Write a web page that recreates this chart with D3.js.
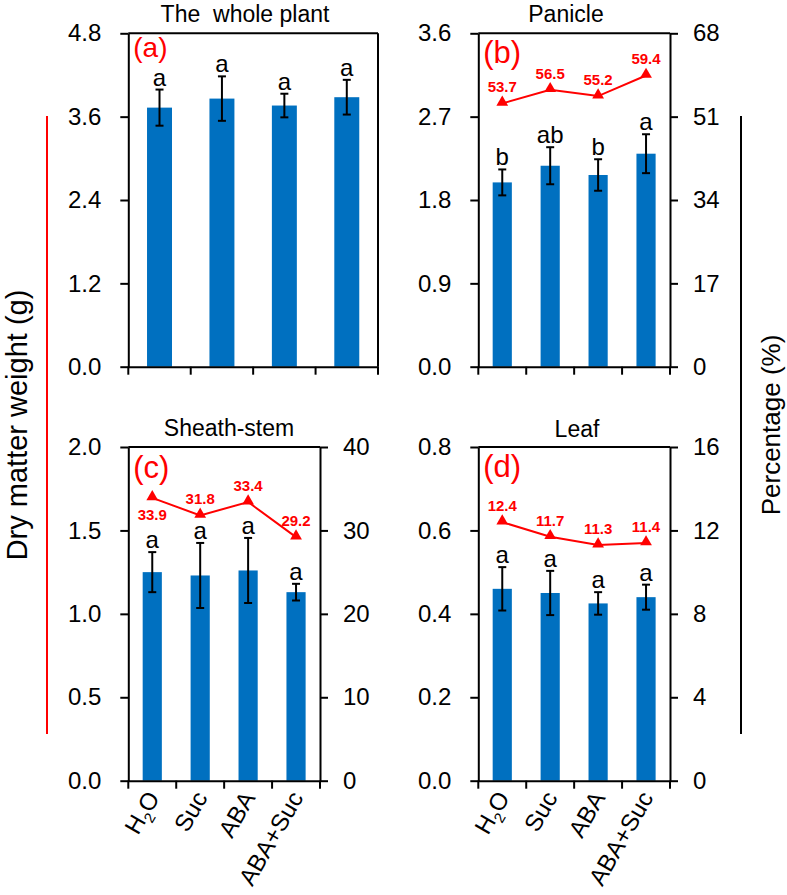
<!DOCTYPE html>
<html><head><meta charset="utf-8">
<script src="https://cdn.jsdelivr.net/npm/d3@7"></script>
<style>
body{margin:0;background:#fff}
svg{display:block}
text{font-family:"Liberation Sans",Arial,sans-serif}
</style>
</head><body>
<svg id="chart" width="787" height="895"></svg>
<script>
// ---------------- data ----------------
const categories = ["H2O", "Suc", "ABA", "ABA+Suc"];

const wholeMean = [3.73, 3.86, 3.76, 3.88];
const wholeErr = [0.26, 0.32, 0.17, 0.25];
const wholeLetters = ["a", "a", "a", "a"];
const wholeTicks = [0, 1.2, 2.4, 3.6, 4.8];

const panicleMean = [1.99, 2.17, 2.07, 2.30];
const panicleErr = [0.14, 0.20, 0.17, 0.21];
const panicleLetters = ["b", "ab", "b", "a"];
const paniclePct = [53.7, 56.5, 55.2, 59.4];
const panicleTicks = [0, 0.9, 1.8, 2.7, 3.6];
const paniclePctTicks = [0, 17, 34, 51, 68];

const sheathMean = [1.25, 1.23, 1.26, 1.13];
const sheathErr = [0.12, 0.195, 0.195, 0.05];
const sheathLetters = ["a", "a", "a", "a"];
const sheathPct = [33.9, 31.8, 33.4, 29.2];
const sheathTicks = [0, 0.5, 1.0, 1.5, 2.0];
const sheathPctTicks = [0, 10, 20, 30, 40];

const leafMean = [0.46, 0.45, 0.425, 0.44];
const leafErr = [0.052, 0.053, 0.027, 0.03];
const leafLetters = ["a", "a", "a", "a"];
const leafPct = [12.4, 11.7, 11.3, 11.4];
const leafTicks = [0, 0.2, 0.4, 0.6, 0.8];
const leafPctTicks = [0, 4, 8, 12, 16];

// ---------------- drawing ----------------
const BLUE = "#0070c0", RED = "#ff0000";
const FS = 24;
const svg = d3.select("#chart");

function styleAxis(sel) {
  sel.selectAll("path.domain").attr("stroke", "#000").attr("stroke-width", 2);
  sel.selectAll(".tick line").attr("stroke", "#000").attr("stroke-width", 2);
  sel.selectAll(".tick text").attr("font-size", FS).attr("fill", "#000")
     .attr("font-family", '"Liberation Sans",Arial,sans-serif');
  sel.attr("font-family", null).attr("font-size", null);
}

function drawPanel(cfg) {
  const g = svg.append("g");
  const x = d3.scaleBand().domain(categories).range([cfg.x0, cfg.x1]);
  const bw = x.bandwidth();
  const y = d3.scaleLinear().domain([0, cfg.ticks[cfg.ticks.length - 1]]).range([cfg.y1, cfg.y0]);

  // bars
  g.selectAll("rect.bar").data(cfg.mean).join("rect")
    .attr("x", (d, i) => x(categories[i]) + bw * 0.3)
    .attr("width", bw * 0.4)
    .attr("y", d => y(d))
    .attr("height", d => y(0) - y(d))
    .attr("fill", BLUE);

  // error bars
  const eb = g.selectAll("g.err").data(cfg.mean).join("g");
  eb.append("line")
    .attr("x1", (d, i) => x(categories[i]) + bw / 2).attr("x2", (d, i) => x(categories[i]) + bw / 2)
    .attr("y1", (d, i) => y(d + cfg.err[i])).attr("y2", (d, i) => y(d - cfg.err[i]));
  eb.append("line")
    .attr("x1", (d, i) => x(categories[i]) + bw / 2 - 4).attr("x2", (d, i) => x(categories[i]) + bw / 2 + 4)
    .attr("y1", (d, i) => y(d + cfg.err[i])).attr("y2", (d, i) => y(d + cfg.err[i]));
  eb.append("line")
    .attr("x1", (d, i) => x(categories[i]) + bw / 2 - 4).attr("x2", (d, i) => x(categories[i]) + bw / 2 + 4)
    .attr("y1", (d, i) => y(d - cfg.err[i])).attr("y2", (d, i) => y(d - cfg.err[i]));
  eb.selectAll("line").attr("stroke", "#000").attr("stroke-width", 2);

  // letters
  g.selectAll("text.let").data(cfg.letters).join("text")
    .attr("x", (d, i) => x(categories[i]) + bw / 2)
    .attr("y", (d, i) => y(cfg.mean[i] + cfg.err[i]) - 4)
    .attr("text-anchor", "middle").attr("font-size", FS).attr("fill", "#000")
    .text(d => d);

  // left axis
  const la = g.append("g").attr("transform", `translate(${cfg.x0},0)`)
    .call(d3.axisLeft(y).tickValues(cfg.ticks).tickSize(8).tickSizeOuter(0).tickPadding(19)
      .tickFormat(d3.format(".1f")));
  styleAxis(la);

  // bottom axis (line + ticks at band boundaries)
  const ba = g.append("g").attr("transform", `translate(0,${cfg.y1})`)
    .call(d3.axisBottom(x).tickSize(0).tickSizeOuter(0).tickFormat(""));
  styleAxis(ba);
  const bounds = categories.map(c => x(c)).concat([cfg.x1]);
  g.selectAll("line.xt").data(bounds).join("line")
    .attr("x1", d => d).attr("x2", d => d).attr("y1", cfg.y1).attr("y2", cfg.y1 + 8)
    .attr("stroke", "#000").attr("stroke-width", 2);

  // top line
  g.append("line").attr("x1", cfg.x0).attr("x2", cfg.x1).attr("y1", cfg.y0).attr("y2", cfg.y0)
    .attr("stroke", "#000").attr("stroke-width", 2);

  // right side
  if (cfg.pct) {
    const y2 = d3.scaleLinear().domain([0, cfg.pctTicks[cfg.pctTicks.length - 1]]).range([cfg.y1, cfg.y0]);
    const ra = g.append("g").attr("transform", `translate(${cfg.x1},0)`)
      .call(d3.axisRight(y2).tickValues(cfg.pctTicks).tickSize(8).tickSizeOuter(0).tickPadding(15)
        .tickFormat(d3.format("d")));
    styleAxis(ra);

    const line = d3.line().x((d, i) => x(categories[i]) + bw / 2).y(d => y2(d));
    g.append("path").attr("d", line(cfg.pct)).attr("fill", "none")
      .attr("stroke", RED).attr("stroke-width", 2);
    g.selectAll("path.tri").data(cfg.pct).join("path")
      .attr("d", d3.symbol(d3.symbolTriangle, 60))
      .attr("transform", (d, i) => `translate(${x(categories[i]) + bw / 2},${y2(d) - 1})`)
      .attr("fill", RED);
    g.selectAll("text.pl").data(cfg.pct).join("text")
      .attr("x", (d, i) => x(categories[i]) + bw / 2)
      .attr("y", (d, i) => cfg.pctBelow[i] ? y2(d) + 22 : y2(d) - 11)
      .attr("text-anchor", "middle").attr("font-size", 15).attr("font-weight", "bold")
      .attr("fill", RED).text(d => d.toFixed(1));
  } else {
    g.append("line").attr("x1", cfg.x1).attr("x2", cfg.x1).attr("y1", cfg.y0).attr("y2", cfg.y1)
      .attr("stroke", "#000").attr("stroke-width", 2);
  }

  // title
  g.append("text").attr("x", cfg.titleX).attr("y", cfg.titleY).attr("text-anchor", "middle")
    .attr("font-size", 23).attr("fill", "#000").style("white-space", "pre").text(cfg.title);
  // panel tag
  g.append("text").attr("x", cfg.x0 + 5).attr("y", cfg.y0 + cfg.tagDy).attr("font-size", cfg.tagSize)
    .attr("fill", RED).text(cfg.tag);

  // x labels
  if (cfg.xLabels) {
    const xl = g.selectAll("text.xl").data(categories).join("text")
      .attr("text-anchor", "end").attr("font-size", FS).attr("fill", "#000")
      .attr("transform", d => `translate(${x(d) + bw / 2 + 8},${cfg.y1 + 17}) rotate(-60)`);
    xl.each(function (d) {
      const t = d3.select(this);
      if (d === "H2O") {
        t.append("tspan").text("H");
        t.append("tspan").attr("font-size", 15).attr("dy", 6).text("2");
        t.append("tspan").attr("dy", -6).text("O");
      } else t.text(d);
    });
  }
}

drawPanel({x0: 128.3, x1: 378, y0: 33.3, y1: 366.7, ticks: wholeTicks, mean: wholeMean, err: wholeErr,
  letters: wholeLetters, title: "The  whole plant", titleX: 245, titleY: 22, tag: "(a)", tagDy: 24, tagSize: 28});
drawPanel({x0: 478.3, x1: 670, y0: 33.3, y1: 366.7, ticks: panicleTicks, mean: panicleMean, err: panicleErr,
  letters: panicleLetters, pct: paniclePct, pctTicks: paniclePctTicks, pctBelow: [0, 0, 0, 0],
  title: "Panicle", titleX: 566, titleY: 22, tag: "(b)", tagDy: 30, tagSize: 31});
drawPanel({x0: 128.3, x1: 320, y0: 447, y1: 780.7, ticks: sheathTicks, mean: sheathMean, err: sheathErr,
  letters: sheathLetters, pct: sheathPct, pctTicks: sheathPctTicks, pctBelow: [1, 0, 0, 0],
  title: "Sheath-stem", titleX: 229, titleY: 436, tag: "(c)", tagDy: 31, tagSize: 31, xLabels: true});
drawPanel({x0: 478.3, x1: 670, y0: 447, y1: 780.7, ticks: leafTicks, mean: leafMean, err: leafErr,
  letters: leafLetters, pct: leafPct, pctTicks: leafPctTicks, pctBelow: [0, 0, 0, 0],
  title: "Leaf", titleX: 577, titleY: 437, tag: "(d)", tagDy: 30, tagSize: 31, xLabels: true});

// shared axis titles and brackets
svg.append("line").attr("x1", 47).attr("x2", 47).attr("y1", 116).attr("y2", 734)
  .attr("stroke", RED).attr("stroke-width", 2);
svg.append("text").attr("transform", "translate(27,425) rotate(-90)").attr("text-anchor", "middle")
  .attr("font-size", 29).attr("font-family", '"Open Sans","Noto Sans",sans-serif').attr("fill", "#000")
  .text("Dry matter weight (g)");
svg.append("line").attr("x1", 741).attr("x2", 741).attr("y1", 116).attr("y2", 734)
  .attr("stroke", "#000").attr("stroke-width", 2);
svg.append("text").attr("transform", "translate(780,425) rotate(-90)").attr("text-anchor", "middle")
  .attr("font-size", 26).attr("fill", "#000").text("Percentage (%)");
</script>
</body></html>
